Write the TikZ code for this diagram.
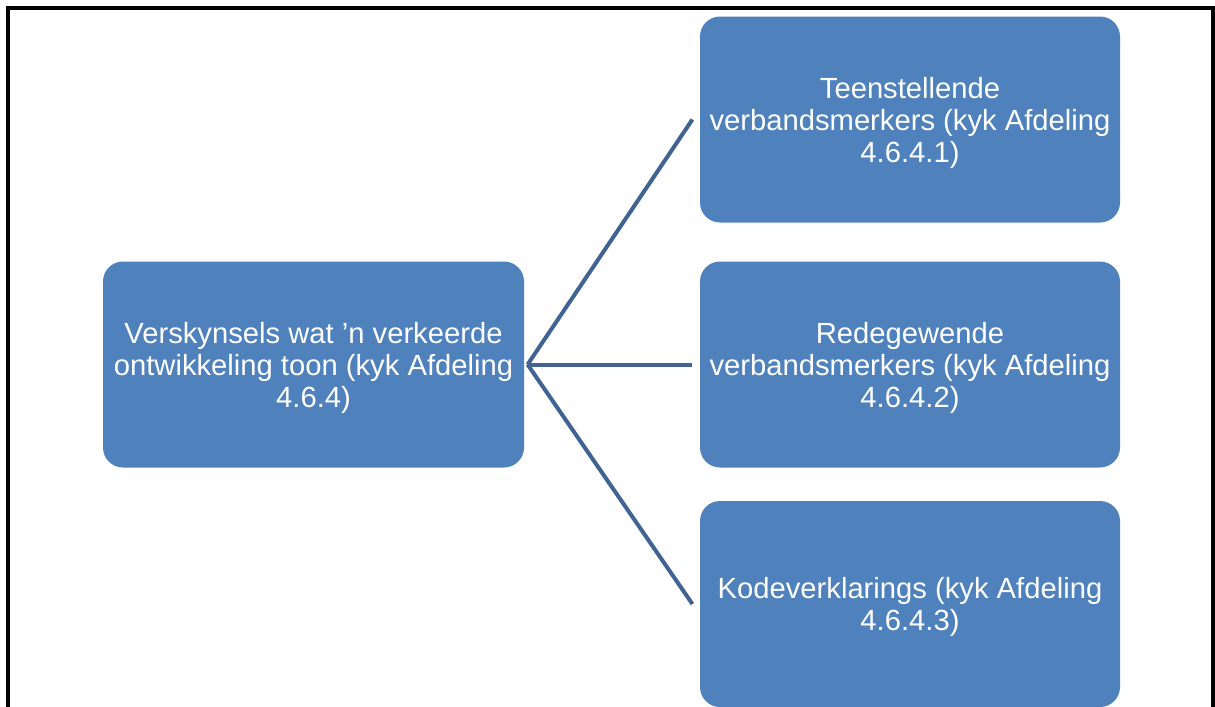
\documentclass[tikz,border=0pt]{standalone}
\usepackage{fontspec}
\setmainfont{Liberation Sans}
\definecolor{boxblue}{RGB}{79,129,189}
\definecolor{linkblue}{RGB}{64,99,148}
\begin{document}
\begin{tikzpicture}[x=0.75pt,y=-0.75pt,
  topicbox/.style={draw=none,fill=boxblue,rounded corners=15pt,
    minimum height=154.5pt,inner sep=0pt,text=white,align=center,
    text depth=0pt,
    font=\fontsize{21.9pt}{24pt}\selectfont},
  link/.style={draw=linkblue,line width=3pt}]
  \useasboundingbox (0,0) rectangle (1215,707);
  % page frame, open at the bottom
  \draw[line width=2.6pt] (8,707) -- (8,8) -- (1213,8) -- (1213,707);

  \node[topicbox,minimum width=315.75pt] (root) at (313.5,364.5)
    {Verskynsels wat ’n verkeerde\\ontwikkeling toon (kyk Afdeling\\4.6.4)};
  \node[topicbox,minimum width=315pt] (c1) at (910,119.5)
    {Teenstellende\\verbandsmerkers (kyk Afdeling\\4.6.4.1)};
  \node[topicbox,minimum width=315pt] (c2) at (910,364.5)
    {Redegewende\\verbandsmerkers (kyk Afdeling\\4.6.4.2)};
  \node[topicbox,minimum width=315pt] (c3) at (910,604)
    {Kodeverklarings (kyk Afdeling\\4.6.4.3)};

  \coordinate (hub) at ([xshift=2.5pt]root.east);
  \coordinate (e1) at ([xshift=-5.5pt]c1.west);
  \coordinate (e2) at ([xshift=-5.5pt]c2.west);
  \coordinate (e3) at ([xshift=-5.5pt]c3.west);
  \draw[link] (hub) -- (e1);
  \draw[link] (hub) -- (e2);
  \draw[link] (hub) -- (e3);
\end{tikzpicture}
\end{document}
